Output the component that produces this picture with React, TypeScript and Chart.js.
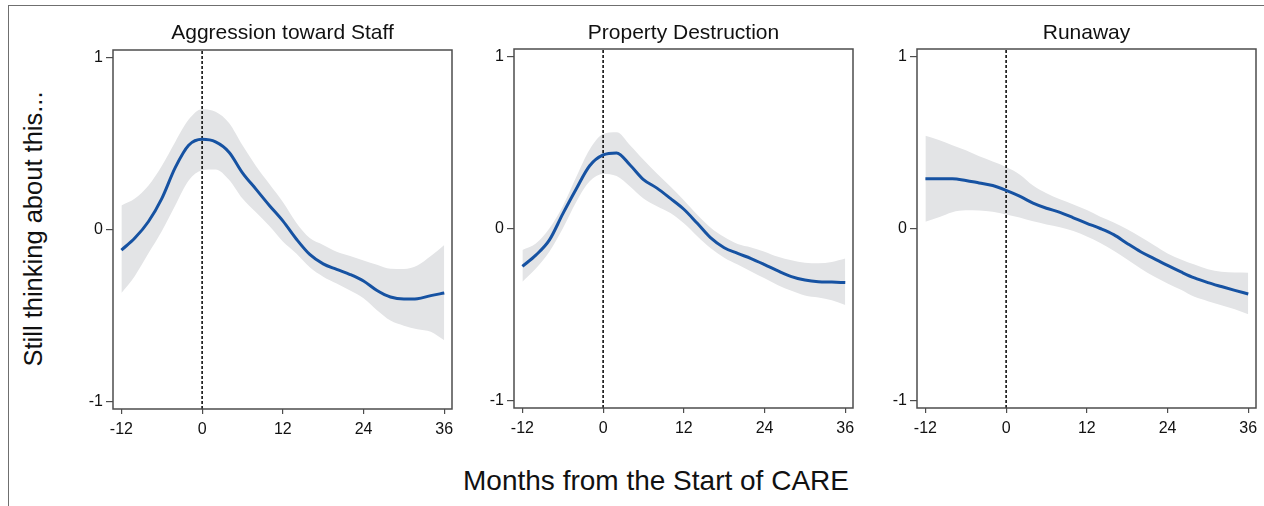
import React, { useEffect, useRef } from "react";
import { Chart, registerables } from "chart.js";

Chart.register(...registerables);

// ---------------- data ----------------
const MONTHS = [-12, -10, -8, -6, -4, -2, 0, 2, 4, 6, 8, 10, 12, 14, 16, 18, 20, 22, 24, 26, 28, 30, 32, 34, 36];
const X_TICKS = [-12, 0, 12, 24, 36];
const Y_TICKS = [-1, 0, 1];
const START_MONTH = 0;

const PANEL_TITLES = ["Aggression toward Staff", "Property Destruction", "Runaway"];
const X_AXIS_TITLE = "Months from the Start of CARE";
const Y_AXIS_TITLE = "Still thinking about this...";

const AGG_MEAN = [-0.12, -0.05, 0.045, 0.18, 0.36, 0.49, 0.525, 0.51, 0.45, 0.33, 0.235, 0.14, 0.05, -0.055, -0.145, -0.2, -0.232, -0.262, -0.3, -0.355, -0.393, -0.405, -0.403, -0.385, -0.37];
const AGG_UPPER = [0.14, 0.18, 0.255, 0.37, 0.51, 0.64, 0.7, 0.685, 0.62, 0.49, 0.37, 0.265, 0.16, 0.04, -0.05, -0.09, -0.13, -0.155, -0.18, -0.205, -0.229, -0.23, -0.21, -0.155, -0.09];
const AGG_LOWER = [-0.37, -0.27, -0.14, -0.01, 0.14, 0.285, 0.345, 0.35, 0.29, 0.18, 0.1, 0.02, -0.07, -0.14, -0.22, -0.275, -0.315, -0.355, -0.4, -0.47, -0.53, -0.56, -0.58, -0.595, -0.645];

const PROP_MEAN = [-0.22, -0.155, -0.068, 0.085, 0.23, 0.365, 0.428, 0.44, 0.37, 0.285, 0.235, 0.175, 0.112, 0.03, -0.055, -0.112, -0.145, -0.175, -0.21, -0.247, -0.28, -0.3, -0.31, -0.312, -0.315];
const PROP_UPPER = [-0.125, -0.087, 0, 0.13, 0.3, 0.46, 0.55, 0.56, 0.485, 0.4, 0.32, 0.245, 0.165, 0.08, 0.005, -0.05, -0.09, -0.11, -0.135, -0.165, -0.185, -0.2, -0.203, -0.195, -0.175];
const PROP_LOWER = [-0.31, -0.233, -0.136, 0, 0.155, 0.275, 0.318, 0.305, 0.245, 0.175, 0.13, 0.09, 0.03, -0.045, -0.115, -0.17, -0.21, -0.25, -0.29, -0.33, -0.362, -0.39, -0.402, -0.418, -0.445];

const RUN_MEAN = [0.29, 0.29, 0.29, 0.28, 0.265, 0.25, 0.222, 0.188, 0.148, 0.118, 0.094, 0.062, 0.03, 0.0, -0.036, -0.087, -0.135, -0.175, -0.215, -0.253, -0.288, -0.315, -0.338, -0.36, -0.381];
const RUN_UPPER = [0.54, 0.515, 0.485, 0.455, 0.42, 0.39, 0.358, 0.315, 0.25, 0.205, 0.17, 0.14, 0.107, 0.068, 0.035, -0.005, -0.05, -0.097, -0.145, -0.18, -0.21, -0.237, -0.252, -0.256, -0.257];
const RUN_LOWER = [0.04, 0.065, 0.095, 0.106, 0.105, 0.097, 0.081, 0.064, 0.042, 0.024, 0.008, -0.015, -0.047, -0.085, -0.13, -0.18, -0.233, -0.28, -0.32, -0.357, -0.398, -0.423, -0.447, -0.47, -0.499];

const SERIES = [
  { mean: AGG_MEAN, upper: AGG_UPPER, lower: AGG_LOWER },
  { mean: PROP_MEAN, upper: PROP_UPPER, lower: PROP_LOWER },
  { mean: RUN_MEAN, upper: RUN_UPPER, lower: RUN_LOWER },
];

// ---------------- layout / style ----------------
const FONT = "'Liberation Sans', Arial, Helvetica, sans-serif";
const X_MIN = -13.25;
const X_MAX = 37.15;
const Y_MIN = -1.045;
const Y_MAX = 1.045;
const PLOT_W = 339;
const SIDE_W = 50;
const RIGHT_PAD = 8;
const CANVAS_H = 450;
const TITLE_SIZE = 21;
const PANEL_POS = [
  { left: 113, top: 50, bottom: 409 },
  { left: 514, top: 49, bottom: 408 },
  { left: 917, top: 49, bottom: 408 },
];

const boxPlugin = {
  id: "plotBox",
  afterDraw(chart: any) {
    const { ctx, chartArea } = chart;
    ctx.save();
    ctx.strokeStyle = "#4d4d4d";
    ctx.lineWidth = 1.5;
    ctx.strokeRect(chartArea.left, chartArea.top, chartArea.right - chartArea.left, chartArea.bottom - chartArea.top);
    ctx.restore();
  },
};

function pts(ys: number[]) {
  return MONTHS.map((m, i) => ({ x: m, y: ys[i] }));
}

export default function App() {
  const refs = [useRef<HTMLCanvasElement>(null), useRef<HTMLCanvasElement>(null), useRef<HTMLCanvasElement>(null)];

  useEffect(() => {
    const charts: Chart[] = [];
    SERIES.forEach((s, i) => {
      const cv = refs[i].current;
      if (!cv) return;
      const pos = PANEL_POS[i];
      const titleBox = TITLE_SIZE * 1.2;
      const chart = new Chart(cv, {
        type: "line",
        data: {
          datasets: [
            {
              data: pts(s.mean),
              borderColor: "#1652a2",
              borderWidth: 3,
              pointRadius: 0,
              cubicInterpolationMode: "monotone",
              fill: false,
            },
            {
              data: [
                { x: START_MONTH, y: Y_MIN },
                { x: START_MONTH, y: Y_MAX },
              ],
              borderColor: "#111111",
              borderWidth: 1.6,
              borderDash: [3, 2],
              pointRadius: 0,
              fill: false,
            },
            {
              data: pts(s.upper),
              borderWidth: 0,
              borderColor: "rgba(0,0,0,0)",
              pointRadius: 0,
              cubicInterpolationMode: "monotone",
              backgroundColor: "#e3e4e6",
              fill: "+1",
            },
            {
              data: pts(s.lower),
              borderWidth: 0,
              borderColor: "rgba(0,0,0,0)",
              pointRadius: 0,
              cubicInterpolationMode: "monotone",
              fill: false,
            },
          ],
        } as any,
        options: {
          responsive: false,
          animation: false,
          devicePixelRatio: 1,
          layout: { padding: { left: 0, right: RIGHT_PAD, top: 0, bottom: 0 } },
          plugins: {
            legend: { display: false },
            tooltip: { enabled: false },
            title: {
              display: true,
              fullSize: false,
              text: PANEL_TITLES[i],
              color: "#111111",
              font: { family: FONT, size: TITLE_SIZE, weight: "normal", lineHeight: 1.2 },
              padding: { top: 20.5, bottom: pos.top - 20.5 - titleBox },
            },
          },
          scales: {
            x: {
              type: "linear",
              min: X_MIN,
              max: X_MAX,
              afterBuildTicks: (sc: any) => {
                sc.ticks = X_TICKS.map((v) => ({ value: v }));
              },
              afterFit: (sc: any) => {
                sc.height = CANVAS_H - pos.bottom;
              },
              grid: { display: true, drawOnChartArea: false, drawTicks: true, tickLength: 5, color: "#4d4d4d", lineWidth: 1.2 },
              border: { display: false },
              ticks: { color: "#111111", font: { family: FONT, size: 16 }, padding: 6, maxRotation: 0 },
            },
            y: {
              type: "linear",
              min: Y_MIN,
              max: Y_MAX,
              afterBuildTicks: (sc: any) => {
                sc.ticks = Y_TICKS.map((v) => ({ value: v }));
              },
              afterFit: (sc: any) => {
                sc.width = SIDE_W;
              },
              grid: { display: true, drawOnChartArea: false, drawTicks: true, tickLength: 7, color: "#4d4d4d", lineWidth: 1.2 },
              border: { display: false },
              ticks: { color: "#111111", font: { family: FONT, size: 16 }, padding: 3 },
            },
          },
        } as any,
        plugins: [boxPlugin],
      });
      charts.push(chart);
    });
    return () => charts.forEach((c) => c.destroy());
  }, []);

  return (
    <div
      style={{
        position: "absolute",
        left: 0,
        top: 0,
        width: 1264,
        height: 506,
        overflow: "hidden",
        background: "#ffffff",
        fontFamily: FONT,
      }}
    >
      <div
        style={{
          position: "absolute",
          left: 8,
          top: 5,
          width: 1264 - 8,
          height: 506 - 5,
          borderTop: "1px solid #6f6f6f",
          borderLeft: "1px solid #6f6f6f",
          boxSizing: "border-box",
        }}
      />
      {PANEL_POS.map((p, i) => (
        <canvas
          key={i}
          ref={refs[i]}
          width={SIDE_W + PLOT_W + RIGHT_PAD}
          height={CANVAS_H}
          style={{ position: "absolute", left: p.left - SIDE_W, top: 0, width: SIDE_W + PLOT_W + RIGHT_PAD, height: CANVAS_H }}
        />
      ))}
      <div
        style={{
          position: "absolute",
          left: 33,
          top: 229,
          transform: "translate(-50%, -50%) rotate(-90deg)",
          whiteSpace: "nowrap",
          fontSize: 25.5,
          lineHeight: "30px",
          color: "#111111",
        }}
      >
        {Y_AXIS_TITLE}
      </div>
      <div
        style={{
          position: "absolute",
          left: 656,
          top: 481,
          transform: "translate(-50%, -50%)",
          whiteSpace: "nowrap",
          fontSize: 28,
          lineHeight: "32px",
          color: "#111111",
        }}
      >
        {X_AXIS_TITLE}
      </div>
    </div>
  );
}
